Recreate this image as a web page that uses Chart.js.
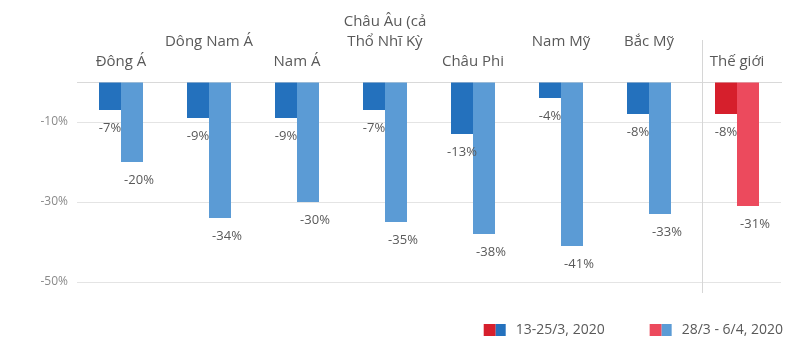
<!DOCTYPE html>
<html>
<head>
<meta charset="utf-8">
<script src="https://cdn.jsdelivr.net/npm/chart.js@4.4.1/dist/chart.umd.min.js"></script>
<style>
    html, body { margin: 0; padding: 0; background: #fff; }
    #wrap { width: 787px; height: 348px; }
</style>
</head>
<body>
<div id="wrap"><canvas id="myChart" width="787" height="348"></canvas></div>
<script>
    // Regions (trailing '' lifts a label one line up)
    var regions = [
        ['Đông Á'],
        ['Dông Nam Á', ''],
        ['Nam Á'],
        ['Châu Âu (cả', 'Thổ Nhĩ Kỳ', ''],
        ['Châu Phi'],
        ['Nam Mỹ', ''],
        ['Bắc Mỹ', ''],
        ['Thế giới']
    ];
    var firstPeriod = [-7, -9, -9, -7, -13, -4, -8, -8];
    var secondPeriod = [-20, -34, -30, -35, -38, -41, -33, -31];
    var periodNames = ['13-25/3, 2020', '28/3 - 6/4, 2020'];
    var yTicks = [0, -10, -30, -50];

    var blueDark = '#2471bd';
    var blueLight = '#5b9bd5';
    var redDark = '#d61f2c';
    var redLight = '#ec4a5d';
    var worldIndex = regions.length - 1;

    var font = '"Open Sans", "DejaVu Sans", sans-serif';
    Chart.defaults.font.family = font;

    function barColors(blue, red) {
        return regions.map(function (r, i) { return i === worldIndex ? red : blue; });
    }

    // value labels under each bar + divider before the world column
    var valueLabels = {
        id: 'valueLabels',
        afterDatasetsDraw: function (chart) {
            var ctx = chart.ctx;
            var area = chart.chartArea;
            var x = chart.scales.x;
            ctx.save();
            ctx.strokeStyle = '#d6d6d6';
            ctx.lineWidth = 1;
            var dx = Math.round(x.getPixelForValue(worldIndex - 0.4)) + 0.5;
            ctx.beginPath();
            ctx.moveTo(dx, area.top - 42);
            ctx.lineTo(dx, area.bottom + 11);
            ctx.stroke();

            ctx.font = '13px ' + font;
            ctx.fillStyle = '#595959';
            ctx.textAlign = 'center';
            ctx.textBaseline = 'middle';
            chart.data.datasets.forEach(function (ds, i) {
                var meta = chart.getDatasetMeta(i);
                meta.data.forEach(function (bar, j) {
                    var shift = i === 1 ? 7 : 0;
                    ctx.fillText(ds.data[j] + '%', bar.x + shift, bar.y + 18);
                });
            });
            ctx.restore();
        }
    };

    // legend with a pair of swatches per period
    var pairLegend = {
        id: 'pairLegend',
        afterDraw: function (chart) {
            var ctx = chart.ctx;
            var swatches = [[redDark, blueDark], [redLight, blueLight]];
            ctx.save();
            ctx.font = '14px ' + font;
            ctx.textBaseline = 'middle';
            ctx.textAlign = 'left';
            var y = chart.height - 18;
            var pos = chart.width - 4;
            var items = [];
            for (var i = periodNames.length - 1; i >= 0; i--) {
                var w = 22 + 10 + ctx.measureText(periodNames[i]).width;
                pos -= w;
                items.unshift({ x: pos, i: i });
                pos -= 45;
            }
            items.forEach(function (it) {
                ctx.fillStyle = swatches[it.i][0];
                ctx.fillRect(it.x, y - 6, 12, 12);
                ctx.fillStyle = swatches[it.i][1];
                ctx.fillRect(it.x + 12, y - 6, 10, 12);
                ctx.fillStyle = '#595959';
                ctx.fillText(periodNames[it.i], it.x + 32, y);
            });
            ctx.restore();
        }
    };

    var ctx = document.getElementById('myChart').getContext('2d');
    var myChart = new Chart(ctx, {
        type: 'bar',
        data: {
            labels: regions,
            datasets: [
                {
                    label: periodNames[0],
                    backgroundColor: barColors(blueDark, redDark),
                    data: firstPeriod
                },
                {
                    label: periodNames[1],
                    backgroundColor: barColors(blueLight, redLight),
                    data: secondPeriod
                }
            ]
        },
        options: {
            responsive: false,
            animation: false,
            categoryPercentage: 0.5,
            barPercentage: 1.0,
            layout: {
                padding: { top: 0, right: 6, bottom: 66, left: 0 }
            },
            plugins: {
                legend: { display: false },
                tooltip: { enabled: false }
            },
            scales: {
                x: {
                    position: 'top',
                    grid: { display: false, drawTicks: false },
                    border: { display: true, color: '#d9d9d9' },
                    afterFit: function (scale) {
                        scale.height = 82;
                    },
                    ticks: {
                        padding: 10,
                        color: '#595959',
                        maxRotation: 0,
                        autoSkip: false,
                        font: { size: 15, lineHeight: 1.35 }
                    }
                },
                y: {
                    min: -50,
                    max: 0,
                    afterBuildTicks: function (scale) {
                        scale.ticks = yTicks.map(function (v) { return { value: v }; });
                    },
                    afterFit: function (scale) {
                        scale.width = 77;
                    },
                    grid: { color: '#e4e4e4', drawTicks: false },
                    border: { display: false },
                    ticks: {
                        padding: 9,
                        color: '#8a8a8a',
                        font: { size: 12 },
                        callback: function (v) { return v === 0 ? '' : v + '%'; }
                    }
                }
            }
        },
        plugins: [valueLabels, pairLegend]
    });
</script>
</body>
</html>
